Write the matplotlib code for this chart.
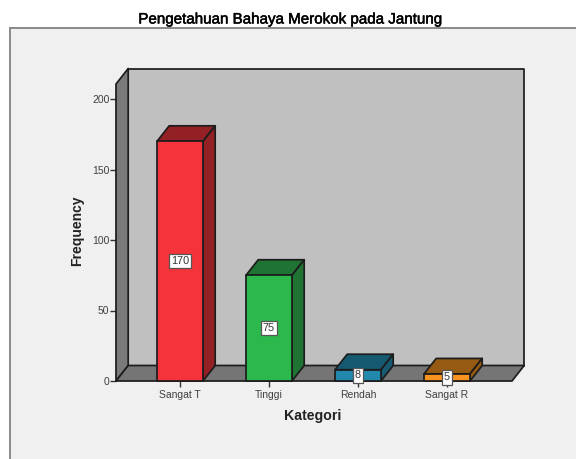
import matplotlib
matplotlib.use("Agg")
import matplotlib.pyplot as plt
import matplotlib.patheffects as pe
from matplotlib.patches import Polygon, Rectangle

categories = ["Sangat T", "Tinggi", "Rendah", "Sangat R"]
values = [170, 75, 8, 5]
yticks = [0, 50, 100, 150, 200]
front_colors = ["#f4333a", "#2db84d", "#2289ad", "#f7931e"]
side_colors = ["#932024", "#1f7434", "#165a72", "#965a12"]
title = "Pengetahuan Bahaya Merokok pada Jantung"
xlabel = "Kategori"
ylabel = "Frequency"

W, H = 576, 459
plt.rcParams["font.family"] = ["Liberation Sans", "DejaVu Sans"]
fig = plt.figure(figsize=(W / 100, H / 100), dpi=100, facecolor="white")

# grey chart frame (runs off the right and bottom of the picture)
fig.add_artist(Rectangle((9.5 / W, -0.02), (W + 10 - 9.5) / W, (H - 28 + 9) / H,
                         transform=fig.transFigure, facecolor="#f0f0f0",
                         edgecolor="#8a8a8a", linewidth=1.4, zorder=-5))

x0, x1, ybot, ytop = 116, 512, 381, 84
ax = fig.add_axes([x0 / W, (H - ybot) / H, (x1 - x0) / W, (ybot - ytop) / H])
ax.set_zorder(5)
ax.patch.set_alpha(0)
spacing = 89.0
ppu = 1.41
ax.set_xlim((x0 - 180) / spacing, (x1 - 180) / spacing)
ax.set_ylim(0, (ybot - ytop) / ppu)
dx, dy = 12.2 / spacing, 15.5 / ppu
xl, xr = ax.get_xlim()
ymax = ax.get_ylim()[1]
edge = "#1c1c1c"

def poly(points, fc, z=2, lw=1.25):
    ax.add_patch(Polygon(points, closed=True, facecolor=fc, edgecolor=edge,
                         linewidth=lw, zorder=z, clip_on=False, joinstyle="round"))

# back wall, side wall and floor
poly([(xl + dx, dy), (xr + dx, dy), (xr + dx, ymax + dy), (xl + dx, ymax + dy)], "#c0c0c0")
poly([(xl, 0), (xl + dx, dy), (xl + dx, ymax + dy), (xl, ymax)], "#7a7a7a")
poly([(xl, 0), (xr, 0), (xr + dx, dy), (xl + dx, dy)], "#757575")

# bars
hw = 23 / spacing
for i, v in enumerate(values):
    z = 3 + i
    a, b = i - hw, i + hw
    poly([(a, v), (b, v), (b + dx, v + dy), (a + dx, v + dy)], side_colors[i], z)
    poly([(b, 0), (b + dx, dy), (b + dx, v + dy), (b, v)], side_colors[i], z)
    poly([(a, 0), (b, 0), (b, v), (a, v)], front_colors[i], z)
    ax.text(i, v / 2, str(v), ha="center", va="center", fontsize=7.8, color="#333333",
            zorder=20, clip_on=False,
            bbox=dict(boxstyle="square,pad=0.2", fc="white", ec="#555555", lw=0.9))

ax.set_xticks(range(len(categories)), categories)
ax.set_yticks(yticks)
ax.tick_params(axis="both", labelsize=7.5, length=4, width=1, color="#333333",
               labelcolor="#404040", pad=0.8)
ax.tick_params(axis="x", pad=2.5)
for s in ax.spines.values():
    s.set_visible(False)

fig.text(290 / W, 1 - 19.5 / H, title, ha="center", va="center", fontsize=10.9, color="black",
         path_effects=[pe.withStroke(linewidth=0.35, foreground="black")])
fig.text(313 / W, 1 - 416 / H, xlabel, ha="center", va="center", fontsize=10.2,
         fontweight="bold", color="#222222")
fig.text(77.5 / W, 1 - 231 / H, ylabel, ha="center", va="center", rotation=90,
         fontsize=10.0, fontweight="bold", color="#222222")

fig.savefig("out.png", dpi=100, facecolor=fig.get_facecolor())
